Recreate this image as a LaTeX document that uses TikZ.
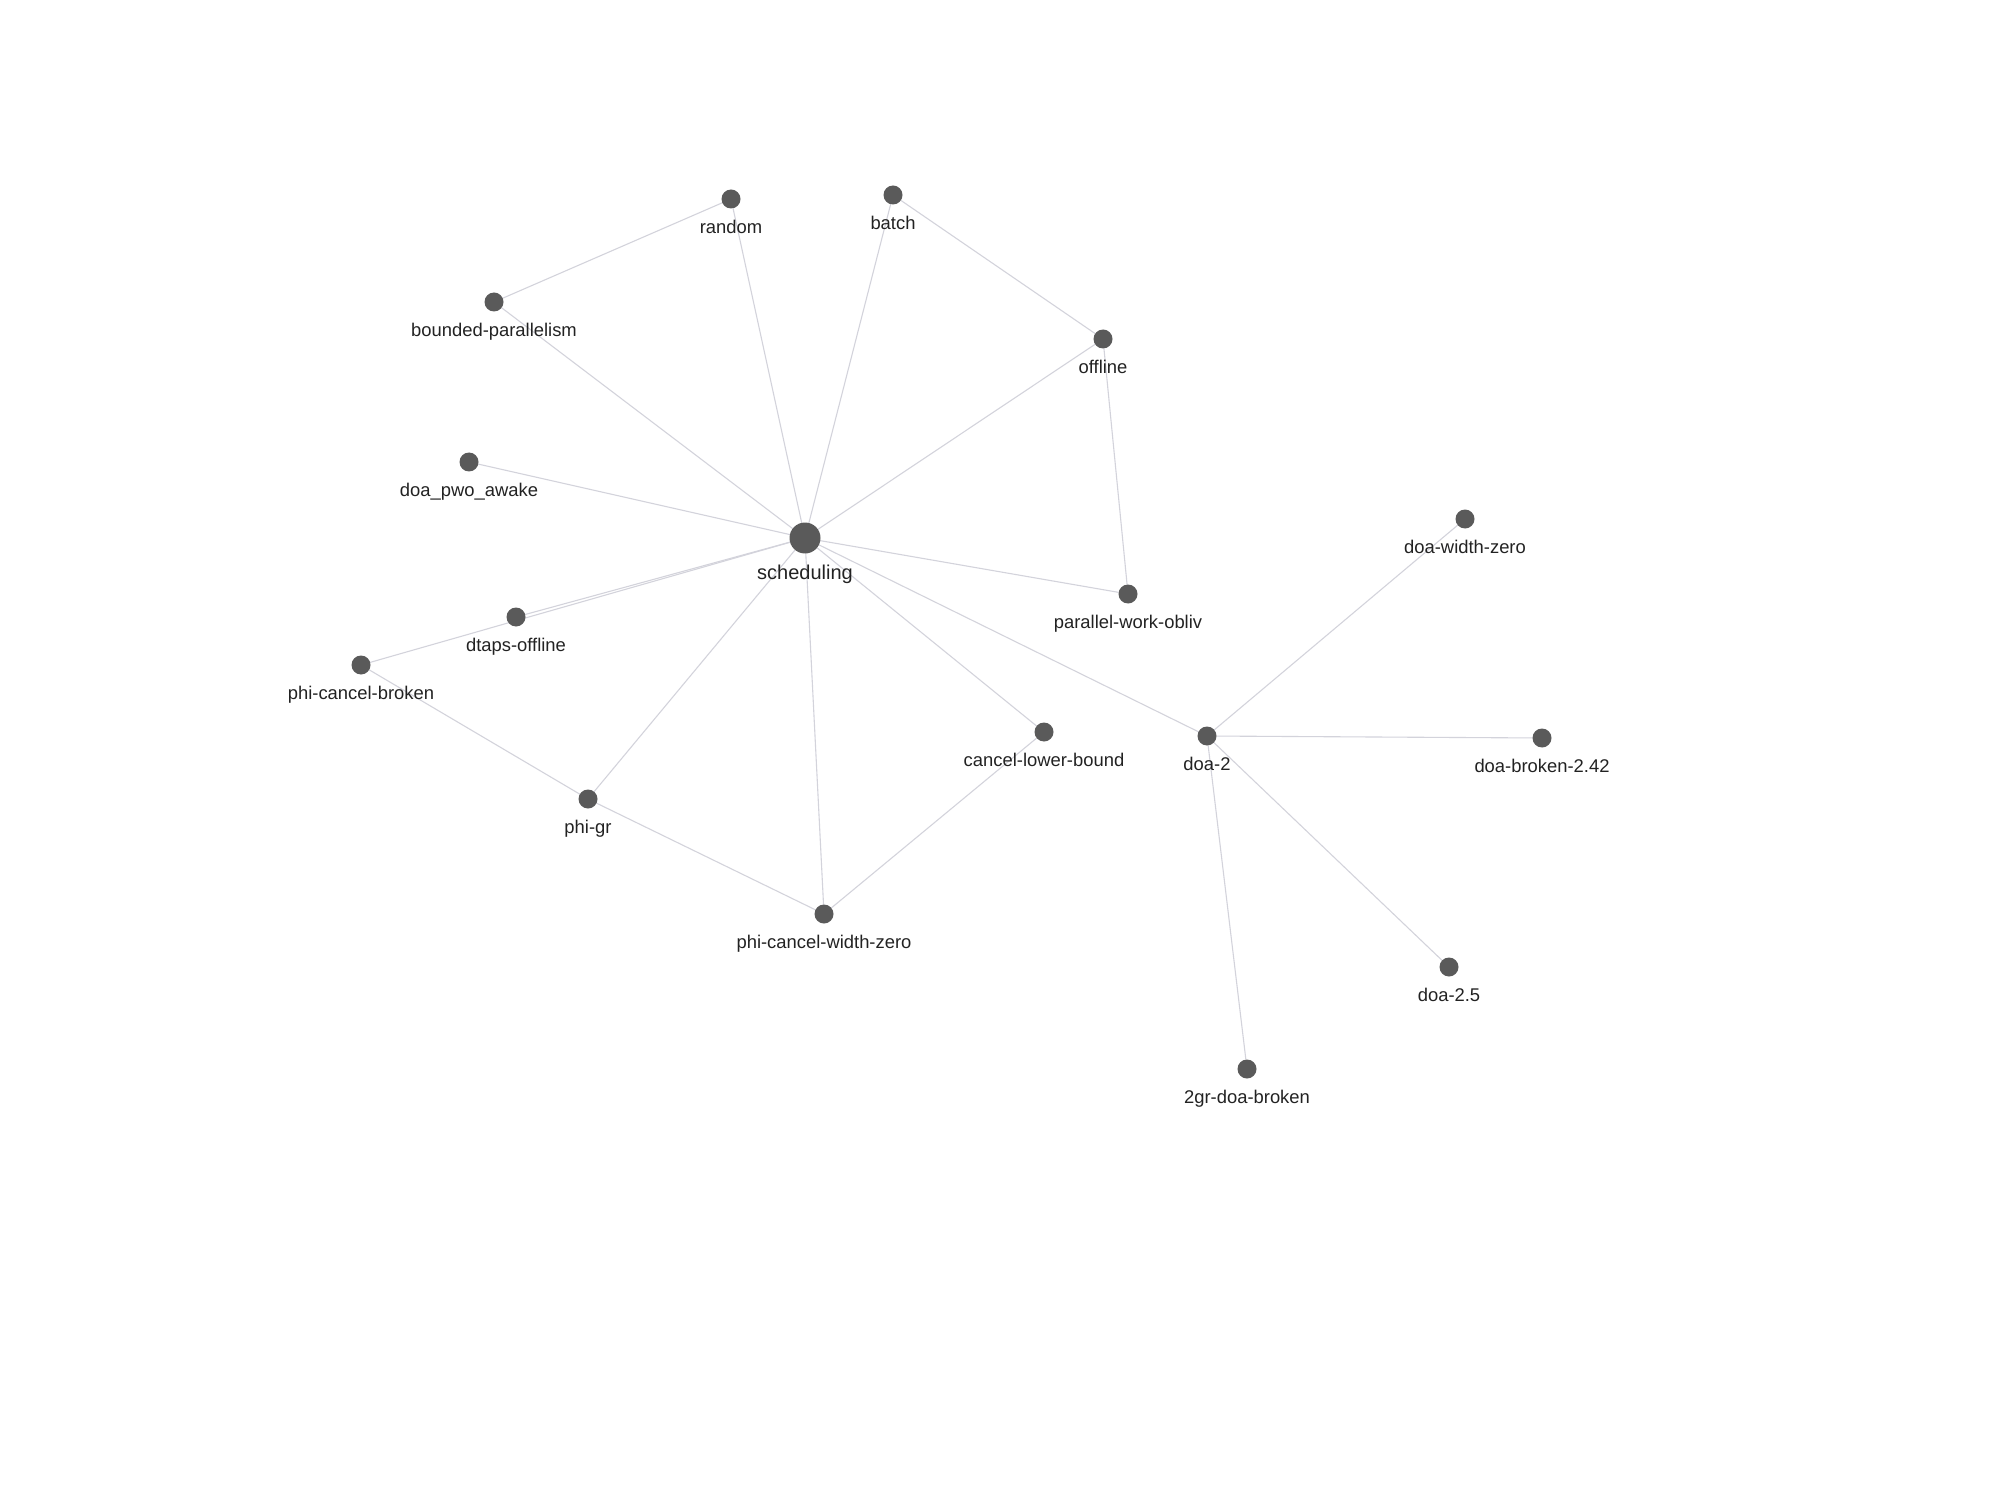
\documentclass[tikz,border=0pt]{standalone}
\usepackage{fontspec}
\setmainfont{Liberation Sans}
\usetikzlibrary{backgrounds}

\definecolor{dotgray}{HTML}{5A5A5A}
\definecolor{edgegray}{HTML}{D3D3DB}
\definecolor{textgray}{HTML}{222222}

\begin{document}
\begin{tikzpicture}[x=0.5pt, y=-0.5pt,
    dot/.style={circle, fill=dotgray, minimum size=9.5pt, inner sep=0pt, outer sep=0pt},
    hub/.style={dot, minimum size=15.5pt},
    lbl/.style={text=textgray, font=\fontsize{9.2}{11}\selectfont, inner sep=0pt, text height=7pt, text depth=2pt},
    hublbl/.style={lbl, font=\fontsize{10}{12}\selectfont, text height=7.5pt},
    label distance=5.1pt,
    link/.style={draw=edgegray, line width=0.55pt}]
    \useasboundingbox (0,0) rectangle (2000,1502);

    % ノード
    \node[hub, label={[hublbl]below:scheduling}] (sched) at (805, 538) {};
    \node[dot, label={[lbl]below:random}] (random) at (731, 199) {};
    \node[dot, label={[lbl]below:batch}] (batch) at (893, 195) {};
    \node[dot, label={[lbl]below:bounded-parallelism}] (bounded) at (494, 302) {};
    \node[dot, label={[lbl]below:offline}] (offline) at (1103, 339) {};
    \node[dot, label={[lbl]below:doa\_pwo\_awake}] (pwo) at (469, 462) {};
    \node[dot, label={[lbl]below:parallel-work-obliv}] (pwoblv) at (1128, 594) {};
    \node[dot, label={[lbl]below:dtaps-offline}] (dtaps) at (516, 617) {};
    \node[dot, label={[lbl]below:phi-cancel-broken}] (phicb) at (361, 665) {};
    \node[dot, label={[lbl]below:cancel-lower-bound}] (cancel) at (1044, 732) {};
    \node[dot, label={[lbl]below:phi-gr}] (phigr) at (588, 799) {};
    \node[dot, label={[lbl]below:phi-cancel-width-zero}] (phicwz) at (824, 914) {};
    \node[dot, label={[lbl]below:doa-2}] (doa2) at (1207, 736) {};
    \node[dot, label={[lbl]below:doa-width-zero}] (doawz) at (1465, 519) {};
    \node[dot, label={[lbl]below:doa-broken-2.42}] (doab) at (1542, 738) {};
    \node[dot, label={[lbl]below:doa-2.5}] (doa25) at (1449, 967) {};
    \node[dot, label={[lbl]below:2gr-doa-broken}] (gr2) at (1247, 1069) {};

    % エッジ
    \begin{pgfonlayer}{background}
    \draw[link] (sched) -- (random);
    \draw[link] (sched) -- (batch);
    \draw[link] (sched) -- (bounded);
    \draw[link] (sched) -- (offline);
    \draw[link] (sched) -- (pwo);
    \draw[link] (sched) -- (pwoblv);
    \draw[link] (sched) -- (dtaps);
    \draw[link] (sched) -- (phicb);
    \draw[link] (sched) -- (phigr);
    \draw[link] (sched) -- (phicwz);
    \draw[link] (sched) -- (cancel);
    \draw[link] (sched) -- (doa2);
    \draw[link] (random) -- (bounded);
    \draw[link] (batch) -- (offline);
    \draw[link] (offline) -- (pwoblv);
    \draw[link] (phicb) -- (phigr);
    \draw[link] (phigr) -- (phicwz);
    \draw[link] (phicwz) -- (cancel);
    \draw[link] (doa2) -- (doawz);
    \draw[link] (doa2) -- (doab);
    \draw[link] (doa2) -- (doa25);
    \draw[link] (doa2) -- (gr2);
    \end{pgfonlayer}
\end{tikzpicture}
\end{document}
